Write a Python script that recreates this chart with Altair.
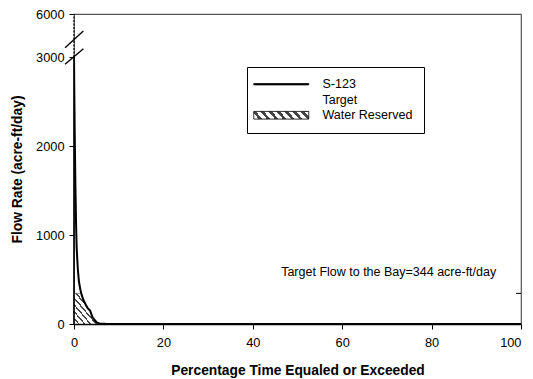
import altair as alt
import pandas as pd

# ---- data ----
pct = [0, 0.05, 0.15, 0.3, 0.45, 0.6, 0.85, 1.1, 1.4, 1.7, 2.1, 2.6, 3.1, 3.6,
       4.1, 4.6, 5.2, 5.8, 7, 10, 20, 40, 60, 80, 100]
flow = [3000, 2700, 2200, 1600, 1150, 850, 620, 480, 390, 330, 270, 220, 175, 150,
        80, 45, 15, 4, 2, 1, 0.5, 0, 0, 0, 0]
target_flow = 344
reserved_pct = [p for p in pct if p <= 5.8]
reserved = [min(f, target_flow) for p, f in zip(pct, flow) if p <= 5.8]

legend_items = ["S-123", "Target", "Water Reserved"]

y_ticks = [0, 1000, 2000, 3000, 6000]
x_ticks = [0, 20, 40, 60, 80, 100]

note_x = [70.4]
note_y = [586]
note_text = ["Target Flow to the Bay=344 acre-ft/day"]

# axis break slashes (data units)
brk_x1 = [-2.0, -2.0]
brk_x2 = [2.1, 2.1]
brk_y1 = [2918, 3649]
brk_y2 = [3579, 4814]

# ---- tables ----
df_line = pd.DataFrame({"pct": pct, "flow": flow})
df_area = pd.DataFrame({"pct": reserved_pct, "reserved": reserved})
df_note = pd.DataFrame({"x": note_x, "y": note_y, "t": note_text})
df_brk = pd.DataFrame({"x": brk_x1, "x2": brk_x2, "y": brk_y1, "y2": brk_y2})
df_axis = pd.DataFrame({"x": [0, 0], "y": [0, 3000], "y2": [3000, 6000], "part": ["low", "high"]})
df_tgt = pd.DataFrame({"x": [98.9], "x2": [100], "y": [target_flow]})
df_leg = pd.DataFrame({"series": legend_items})

# hatch as a striped gradient
def stripes(n, frac):
    out = []
    for i in range(n):
        out += [
            {"offset": i / n, "color": "white"},
            {"offset": (i + frac) / n, "color": "white"},
            {"offset": (i + frac) / n, "color": "#444444"},
            {"offset": (i + 1) / n, "color": "#444444"},
        ]
    return out

hatch = {"gradient": "linear", "x1": 0, "y1": 1, "x2": 1, "y2": 0, "stops": stripes(9, 0.7)}

stops_js = ",".join("{offset:%g,color:'%s'}" % (s["offset"], s["color"]) for s in stripes(14, 0.55))
hatch_js = "{gradient:'linear',x1:0.1,y1:1,x2:0.9,y2:0,stops:[" + stops_js + "]}"

x_scale = alt.Scale(domain=[0, 100], nice=False, zero=False)
y_scale = alt.Scale(domain=[0, 3000, 6000], range=[310, 43, 0], nice=False, zero=False)

wide = "M-5,-0.7L5,-0.7L5,0.7L-5,0.7Z"
thin = "M-5,-0.12L5,-0.12L5,0.12L-5,0.12Z"
empty = "M0,0L0,0"

legend = alt.Legend(
    title=None, orient="none", legendX=173, legendY=53,
    strokeColor="black", fillColor="white", padding=11,
    symbolSize=121, symbolOffset=17, labelOffset=35, rowPadding=2.5,
    symbolStrokeColor="black", symbolStrokeWidth=0.8,
    labelFont="Liberation Sans", labelFontSize=12.5, labelColor="black",
)

legend_layer = alt.Chart(df_leg).mark_point(filled=True, opacity=1).encode(
    shape=alt.Shape("series:N", scale=alt.Scale(domain=legend_items, range=[thin, empty, wide]),
                    legend=legend),
    color=alt.Color("series:N", scale=alt.Scale(domain=legend_items,
                                                range=["black", "white", alt.ExprRef(hatch_js)]),
                    legend=legend),
).transform_filter("false")

line = alt.Chart(df_line).mark_line(strokeWidth=2, color="black", clip=True).encode(
    x=alt.X("pct:Q", scale=x_scale,
            axis=alt.Axis(values=x_ticks, title="Percentage Time Equaled or Exceeded",
                          grid=False, tickSize=5, labelPadding=7, titlePadding=15,
                          labelFlush=False,
                          labelAlign=alt.ExprRef("datum.value === 100 ? 'right' : 'center'"),
                          domainColor="black", domainWidth=1.5, tickColor="black")),
    y=alt.Y("flow:Q", scale=y_scale,
            axis=alt.Axis(values=y_ticks, format="d", title="Flow Rate (acre-ft/day)",
                          grid=False, tickSize=5, labelPadding=5, titlePadding=11,
                          labelFlush=False,
                          domain=False, tickColor="black")),
)

area = alt.Chart(df_area).mark_area(fill=hatch, stroke="#222", strokeWidth=0.5).encode(
    x=alt.X("pct:Q", scale=x_scale),
    y=alt.Y("reserved:Q", scale=y_scale),
)

axis_rules = alt.Chart(df_axis).mark_rule(color="black").encode(
    x=alt.X("x:Q", scale=x_scale),
    y=alt.Y("y:Q", scale=y_scale),
    y2="y2:Q",
    strokeWidth=alt.condition("datum.part === 'low'", alt.value(1.6), alt.value(1.2)),
    strokeDash=alt.condition("datum.part === 'low'", alt.value([1, 0]), alt.value([2, 1.5])),
)

breaks = alt.Chart(df_brk).mark_rule(color="black", strokeWidth=1.4).encode(
    x=alt.X("x:Q", scale=x_scale), x2="x2:Q",
    y=alt.Y("y:Q", scale=y_scale), y2="y2:Q",
)

tgt = alt.Chart(df_tgt).mark_rule(color="black", strokeWidth=1).encode(
    x=alt.X("x:Q", scale=x_scale), x2="x2:Q",
    y=alt.Y("y:Q", scale=y_scale),
)

note = alt.Chart(df_note).mark_text(font="Liberation Sans", fontSize=12.5, color="black").encode(
    x=alt.X("x:Q", scale=x_scale),
    y=alt.Y("y:Q", scale=y_scale),
    text="t:N",
)

chart = alt.layer(area, line, axis_rules, breaks, tgt, note, legend_layer).properties(
    width=447, height=310,
    padding={"left": 66, "top": 6, "right": 4, "bottom": 58},
    autosize=alt.AutoSizeParams(type="none"),
).configure_view(
    stroke="#555555", strokeWidth=1.2,
).configure_axis(
    labelFont="Liberation Sans", labelFontSize=12.8, labelColor="black",
    titleFont="Liberation Sans", titleFontSize=13.8, titleFontWeight="bold", titleColor="black",
)

chart.save("out.html", embed_options={"renderer": "svg", "actions": False})
